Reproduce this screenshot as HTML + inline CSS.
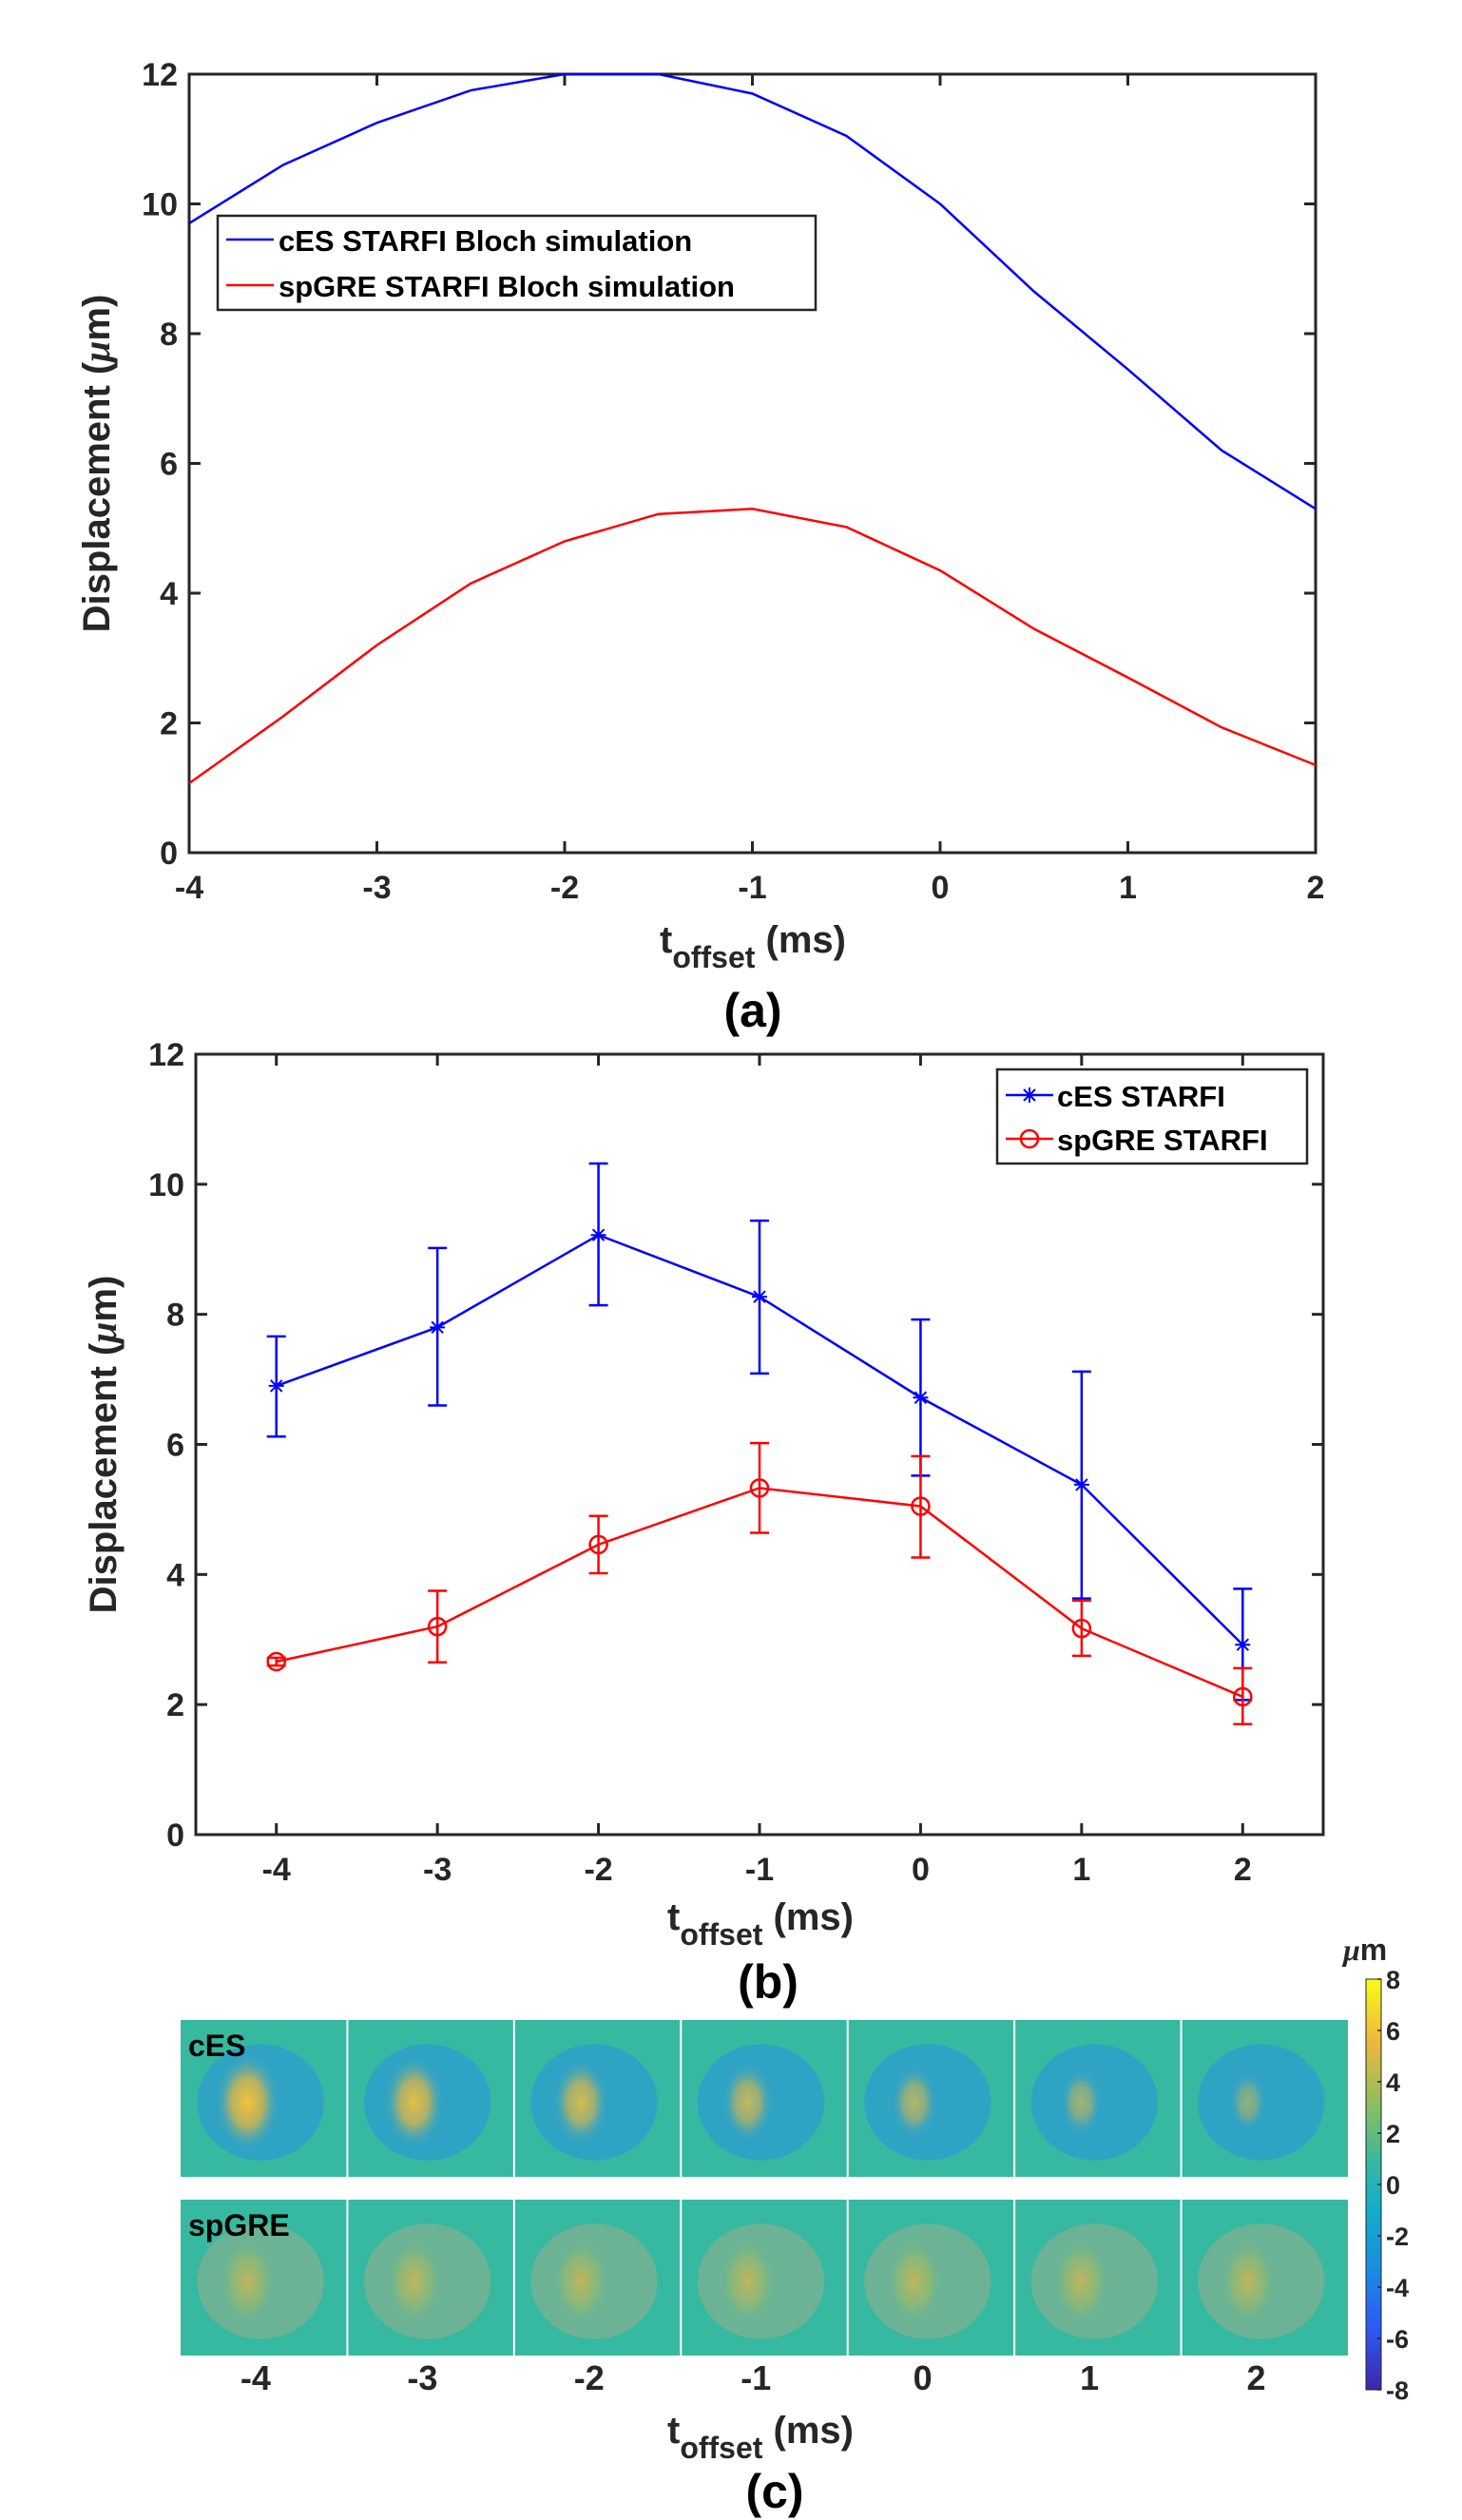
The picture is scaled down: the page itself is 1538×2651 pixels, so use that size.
<!DOCTYPE html>
<html><head><meta charset="utf-8"><style>
html,body{margin:0;padding:0;background:#fff;}
svg{display:block;font-family:"Liberation Sans",Arial,sans-serif;font-weight:bold;}
</style></head><body>
<svg id="fig" width="1538" height="2651" viewBox="0 0 1538 2651" xmlns="http://www.w3.org/2000/svg">
<defs>
<linearGradient id="cbar" x1="0" y1="1" x2="0" y2="0">
<stop offset="0" stop-color="#3e26a8"/><stop offset="0.15" stop-color="#2c5af5"/><stop offset="0.3" stop-color="#1a8ee0"/><stop offset="0.45" stop-color="#12afc8"/><stop offset="0.55" stop-color="#35b8a0"/><stop offset="0.7" stop-color="#8ebf5e"/><stop offset="0.85" stop-color="#eeb83c"/><stop offset="1" stop-color="#f9fb15"/>
</linearGradient>
<radialGradient id="hotC" cx="0.5" cy="0.5" r="0.5"><stop offset="0" stop-color="#f6c23a"/><stop offset="0.5" stop-color="#d8b54a" stop-opacity="0.8"/><stop offset="1" stop-color="#3fa8c0" stop-opacity="0"/></radialGradient>
<radialGradient id="hotS" cx="0.5" cy="0.5" r="0.5"><stop offset="0" stop-color="#d4b650"/><stop offset="0.6" stop-color="#9fbb68" stop-opacity="0.7"/><stop offset="1" stop-color="#6ab88a" stop-opacity="0"/></radialGradient>
</defs>
<g id="pa"></g>
<g id="pb"></g>
<g id="pc"></g>
</svg>
<script>
// Panel (a) data
const aX = [-4,-3.5,-3,-2.5,-2,-1.5,-1,-0.5,0,0.5,1,1.5,2];
const aCES = [9.7,10.6,11.25,11.75,12.0,12.0,11.7,11.05,10.0,8.65,7.45,6.2,5.3];
const aSPG = [1.07,2.1,3.2,4.15,4.8,5.22,5.3,5.02,4.35,3.45,2.7,1.93,1.35];
// Panel (b) data
const bX = [-4,-3,-2,-1,0,1,2];
const bCES = [6.9,7.8,9.22,8.27,6.72,5.38,2.92];
const bCESHi = [7.66,9.02,10.32,9.44,7.92,7.12,3.78];
const bCESLo = [6.12,6.6,8.14,7.09,5.52,3.63,2.07];
const bSPG = [2.66,3.2,4.46,5.33,5.05,3.17,2.12];
const bSPGHi = [2.72,3.75,4.9,6.02,5.82,3.6,2.56];
const bSPGLo = [2.6,2.65,4.02,4.64,4.26,2.75,1.7];
const yTicks = [0,2,4,6,8,10,12];
const xTicks = [-4,-3,-2,-1,0,1,2];
const cbTicks = [8,6,4,2,0,-2,-4,-6,-8];

const NS="http://www.w3.org/2000/svg";
function mk(parent,tag,attrs,text){const e=document.createElementNS(NS,tag);for(const k in attrs)e.setAttribute(k,attrs[k]);if(text!==undefined)e.textContent=text;parent.appendChild(e);return e;}

function axes(g,L,R,T,B,xmin,xmax,ymin,ymax){
  const sx=v=>L+(v-xmin)/(xmax-xmin)*(R-L);
  const sy=v=>B-(v-ymin)/(ymax-ymin)*(B-T);
  const box=mk(g,'rect',{x:L,y:T,width:R-L,height:B-T,fill:'none',stroke:'#262626','stroke-width':3});
  
  
  yTicks.forEach(v=>{
    const y=sy(v);
    mk(g,'line',{x1:L,y1:y,x2:L+12,y2:y,stroke:'#262626','stroke-width':3});
    mk(g,'line',{x1:R,y1:y,x2:R-12,y2:y,stroke:'#262626','stroke-width':3});
    const t=mk(g,'text',{x:L-12,y:y+12,'text-anchor':'end','font-size':34,fill:'#262626'},String(v));
    
    
  });
  xTicks.forEach(v=>{
    const x=sx(v);
    mk(g,'line',{x1:x,y1:B,x2:x,y2:B-12,stroke:'#262626','stroke-width':3});
    mk(g,'line',{x1:x,y1:T,x2:x,y2:T+12,stroke:'#262626','stroke-width':3});
    const t=mk(g,'text',{x:x,y:B+48,'text-anchor':'middle','font-size':34,fill:'#262626'},String(v));
    
    
  });
  const yl=mk(g,'text',{x:0,y:0,transform:`translate(${L-84},${(T+B)/2}) rotate(-90)`,'text-anchor':'middle','font-size':40,fill:'#262626'});
  
  
  yl.innerHTML='Displacement (<tspan font-style="italic" font-family="Liberation Serif">μ</tspan>m)';
  return {sx,sy};
}
function xtitle(g,cx,y,name){
  const t=mk(g,'text',{x:cx,y:y,'text-anchor':'middle','font-size':40,fill:'#262626'});
  
  
  t.innerHTML='t<tspan dy="16" font-size="32">offset</tspan><tspan dy="-16"> (ms)</tspan>';
}
function label(g,cx,y,s,name){
  const t=mk(g,'text',{x:cx,y:y,'text-anchor':'middle','font-size':50,fill:'#000'},s);
  
  
}
function line(g,xs,ys,sx,sy,col,name){
  const p=mk(g,'polyline',{points:xs.map((x,i)=>sx(x)+','+sy(ys[i])).join(' '),fill:'none',stroke:col,'stroke-width':2.5});
  
  
}

// Panel a
const ga=document.getElementById('pa');
const A=axes(ga,199,1384,78,897,-4,2,0,12);
line(ga,aX,aCES,A.sx,A.sy,'#0000ff','ces-sim-line');
line(ga,aX,aSPG,A.sx,A.sy,'#ff0000','spgre-sim-line');
const la=mk(ga,'g',{});


mk(la,'rect',{x:229,y:227,width:629,height:99,fill:'#fff',stroke:'#262626','stroke-width':2.5});
mk(la,'line',{x1:238,y1:252,x2:288,y2:252,stroke:'#0000ff','stroke-width':2.5});
mk(la,'text',{x:293,y:264,'font-size':31,fill:'#000'},'cES STARFI Bloch simulation');
mk(la,'line',{x1:238,y1:300,x2:288,y2:300,stroke:'#ff0000','stroke-width':2.5});
mk(la,'text',{x:293,y:312,'font-size':31,fill:'#000'},'spGRE STARFI Bloch simulation');
xtitle(ga,792,1002,'x-axis-title-a');
label(ga,792,1080,'(a)','panel-label-a');

// Panel b
const gb=document.getElementById('pb');
const B=axes(gb,206,1392,1109,1930,-4.5,2.5,0,12);
function errs(xs,lo,hi,col,name){
  xs.forEach((x,i)=>{
    const X=B.sx(x);
    const eg=mk(gb,'g',{stroke:col,'stroke-width':2.5});
    
    
    mk(eg,'line',{x1:X,y1:B.sy(lo[i]),x2:X,y2:B.sy(hi[i])});
    mk(eg,'line',{x1:X-10,y1:B.sy(lo[i]),x2:X+10,y2:B.sy(lo[i])});
    mk(eg,'line',{x1:X-10,y1:B.sy(hi[i]),x2:X+10,y2:B.sy(hi[i])});
  });
}
function star(g,X,Y,col){
  const s=mk(g,'g',{stroke:col,'stroke-width':2});
  
  
  mk(s,'line',{x1:X-8,y1:Y,x2:X+8,y2:Y});mk(s,'line',{x1:X,y1:Y-8,x2:X,y2:Y+8});
  mk(s,'line',{x1:X-6,y1:Y-6,x2:X+6,y2:Y+6});mk(s,'line',{x1:X-6,y1:Y+6,x2:X+6,y2:Y-6});
}
function circ(g,X,Y,col){
  const c=mk(g,'circle',{cx:X,cy:Y,r:9,fill:'none',stroke:col,'stroke-width':2.5});
  
  
}
errs(bX,bCESLo,bCESHi,'#0000ff','ces-errorbar');
errs(bX,bSPGLo,bSPGHi,'#ff0000','spgre-errorbar');
line(gb,bX,bCES,B.sx,B.sy,'#0000ff','ces-line');
line(gb,bX,bSPG,B.sx,B.sy,'#ff0000','spgre-line');
bX.forEach((x,i)=>{star(gb,B.sx(x),B.sy(bCES[i]),'#0000ff');circ(gb,B.sx(x),B.sy(bSPG[i]),'#ff0000');});
const lb=mk(gb,'g',{});


mk(lb,'rect',{x:1049,y:1125,width:326,height:99,fill:'#fff',stroke:'#262626','stroke-width':2.5});
mk(lb,'line',{x1:1058,y1:1152,x2:1108,y2:1152,stroke:'#0000ff','stroke-width':2.5});
star(lb,1083,1152,'#0000ff');
mk(lb,'text',{x:1112,y:1164,'font-size':31,fill:'#000'},'cES STARFI');
mk(lb,'line',{x1:1058,y1:1198,x2:1108,y2:1198,stroke:'#ff0000','stroke-width':2.5});
circ(lb,1083,1198,'#ff0000');
mk(lb,'text',{x:1112,y:1210,'font-size':31,fill:'#000'},'spGRE STARFI');
xtitle(gb,800,2030,'x-axis-title-b');
label(gb,808,2102,'(b)','panel-label-b');

// Panel c
const gc=document.getElementById('pc');
const cL=190,cR=1418,pw=(cR-cL)/7;
const rows=[[2125,2290,'cES'],[2314,2478,'spGRE']];
rows.forEach((r,ri)=>{
  const [t,b,name]=r;
  for(let i=0;i<7;i++){
    const x=cL+i*pw;
    const cell=mk(gc,'g',{});
    
    
    mk(cell,'rect',{x:x,y:t,width:pw,height:b-t,fill:'#36b9a0'});
    const cx=x+pw*0.48,cy=(t+b)/2+4;
    mk(cell,'ellipse',{cx:cx,cy:cy,rx:pw*0.38,ry:(b-t)*0.37,fill:ri===0?'#2fa3c4':'#6bb394'});
    const k=ri===0?(1-i/7):0.7;
    mk(cell,'ellipse',{cx:cx-pw*0.08,cy:cy,rx:pw*0.16*(0.6+k*0.6),ry:(b-t)*0.28*(0.6+k*0.5),fill:ri===0?'url(#hotC)':'url(#hotS)',opacity:0.4+0.6*k});
    if(i>0) mk(cell,'line',{x1:x,y1:t,x2:x,y2:b,stroke:'#ffffff','stroke-width':2});
  }
  const rl=mk(gc,'text',{x:198,y:t+38,'font-size':32,fill:'#000'},name);
  
  
});
xTicks.forEach((v,i)=>{
  const t=mk(gc,'text',{x:cL+(i+0.45)*pw,y:2514,'text-anchor':'middle','font-size':36,fill:'#262626'},String(v));
  
  
});
const cb=mk(gc,'rect',{x:1437,y:2082,width:16,height:432,fill:'url(#cbar)',stroke:'#262626','stroke-width':1});


cbTicks.forEach((v,i)=>{
  const y=2082+i*432/8;
  mk(gc,'line',{x1:1449,y1:y,x2:1453,y2:y,stroke:'#262626','stroke-width':1.5});
  const t=mk(gc,'text',{x:1458,y:y+10,'font-size':27,fill:'#262626'},String(v));
  
  
});
const cu=mk(gc,'text',{x:1413,y:2062,'font-size':32,fill:'#262626'});


cu.innerHTML='<tspan font-style="italic" font-family="Liberation Serif">μ</tspan>m';
xtitle(gc,800,2570,'x-axis-title-c');
label(gc,815,2638,'(c)','panel-label-c');
</script>
</body></html>
